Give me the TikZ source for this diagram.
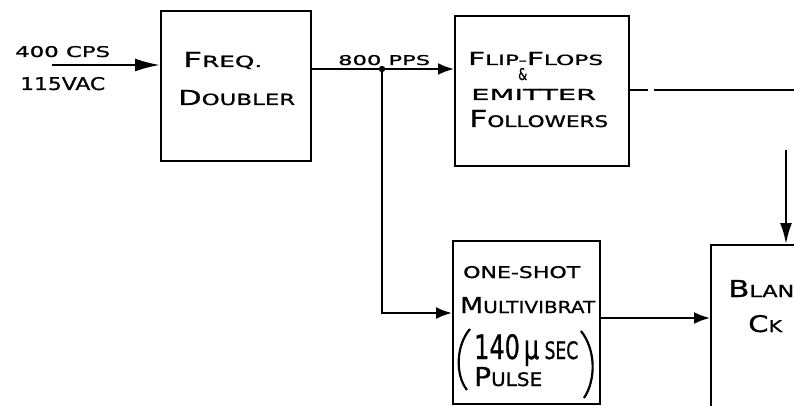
\documentclass[tikz,border=0pt]{standalone}
\usepackage{fontspec}
\usepackage{graphicx}
\newfontfamily\hand{DejaVu Sans}[FakeBold=0.8]
\usetikzlibrary{arrows.meta}
\newcommand\fs[2]{{\fontsize{#1}{#1}\selectfont #2}}
\newcommand\fw[3]{\resizebox{#1}{#2}{\hand\fontsize{15}{15}\selectfont #3}}
\tikzset{
  box/.style={draw, line width=2.4pt, inner sep=0pt, anchor=north west},
  wire/.style={line width=2.3pt},
  arr/.style={wire, -{Latex[length=16pt,width=12pt]}},
  lab/.style={inner sep=0pt, anchor=base west},
  paren/.style={line width=2.2pt}
}
\begin{document}
\begin{tikzpicture}[x=1pt,y=-1pt]
\useasboundingbox (0,0) rectangle (794,406);
% boxes
\node[box, minimum width=150pt, minimum height=150pt] (dbl) at (160,10) {};
\node[box, minimum width=174pt, minimum height=150pt] (ff) at (454,15) {};
\node[box, minimum width=147pt, minimum height=163pt] (os) at (452,240) {};
\node[box, minimum width=130pt, minimum height=200pt] (bl) at (710,244) {};
% labels
\node[lab] (t1) at (15,57) {\fw{95pt}{11pt}{400 CPS}};
\node[lab] (t2) at (20,90) {\fw{85pt}{13pt}{115VAC}};
\node[lab] (t3) at (183,67) {\fw{79pt}{15pt}{\fs{20}{F}REQ.}};
\node[lab] (t4) at (178,105) {\fw{117pt}{15pt}{\fs{20}{D}OUBLER}};
\node[lab] (t5) at (338,65) {\fw{92pt}{10pt}{800 PPS}};
\node[lab] (t6) at (468,65) {\fw{135pt}{13pt}{\fs{19}{F}LIP-\fs{19}{F}LOPS}};
\node[lab] (t7) at (518,80) {\fw{9pt}{12pt}{\&}};
\node[lab] (t8) at (471,100) {\fw{125pt}{11pt}{EMITTER}};
\node[lab] (t9) at (469,127) {\fw{139pt}{17pt}{\fs{22}{F}OLLOWERS}};
\node[lab] (t10) at (463,278) {\fw{117pt}{12pt}{ONE-SHOT}};
\node[lab] (t11) at (460,313) {\fw{135pt}{16pt}{\fs{20}{M}ULTIVIBRAT}};
\node[lab] (t12) at (474,359) {\fw{104pt}{25pt}{\fs{21}{140\,μ} SEC}};
\node[lab] (t13) at (474,386) {\fw{68pt}{19pt}{\fs{21}{P}ULSE}};
\node[lab] (t14) at (728,297) {\fw{66pt}{17pt}{\fs{21}{B}LAN}};
\node[lab] (t15) at (748,332) {\fw{34pt}{17pt}{\fs{21}{C}K}};
% parentheses
\draw[paren] (470,329) .. controls (456,345) and (455,375) .. (467,390);
\draw[paren] (581,331) .. controls (596,350) and (596,380) .. (584,398);
% connectors
\coordinate (in) at (52,65);
\coordinate (j) at (382,69);
\coordinate (k) at (0,313);
\coordinate (r) at (0,318);
\coordinate (o) at (0,90);
\coordinate (g1) at (648,90);
\coordinate (g2) at (654,90);
\coordinate (e) at (794,90);
\coordinate (v) at (786,150);
\draw[wire, -{Latex[length=25pt,width=13pt]}] (in) -- (in -| dbl.west);
\draw[arr] (j -| dbl.east) -- (j -| ff.west);
\fill (j) circle (3.2pt);
\draw[arr] (j) -- (j |- k) -- (k -| os.west);
\draw[arr] (r -| os.east) -- (r -| bl.west);
\draw[wire] (o -| ff.east) -- (g1);
\draw[wire] (g2) -- (e);
\draw[wire, -{Latex[length=21pt,width=12pt]}] (v) -- (v |- bl.north);
\end{tikzpicture}
\end{document}
